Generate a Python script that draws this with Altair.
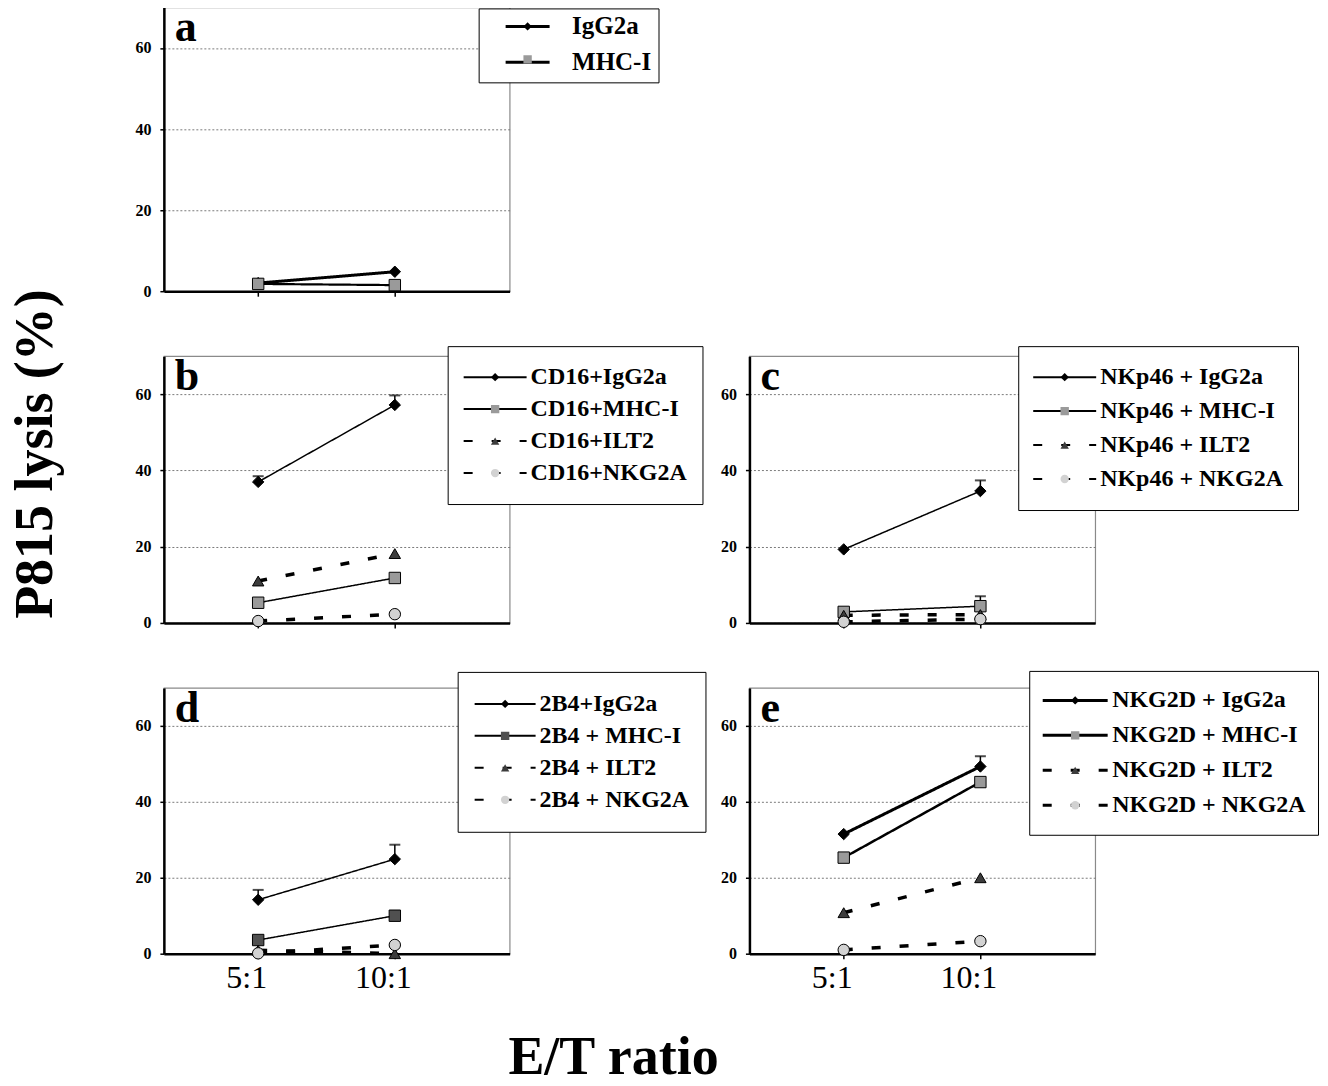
import json
import altair as alt
import pandas as pd

FONT = "Liberation Serif"

RATIOS = ["5:1", "10:1"]
RATIO_POS = [1, 2]
Y_TICKS = [0, 20, 40, 60]

Y_TITLE = "P815 lysis (%)"
X_TITLE = "E/T ratio"

A_SERIES = ["IgG2a", "MHC-I"]
A_VALUES = [[2.0, 4.8], [1.8, 1.5]]
A_ERR = [[0, 0], [0, 0]]

B_SERIES = ["CD16+IgG2a", "CD16+MHC-I", "CD16+ILT2", "CD16+NKG2A"]
B_VALUES = [[37.0, 57.2], [5.3, 11.8], [11.0, 18.2], [0.5, 2.3]]
B_ERR = [[1.5, 2.5], [0, 0], [0, 0], [0, 0]]

C_SERIES = ["NKp46 + IgG2a", "NKp46 + MHC-I", "NKp46 + ILT2", "NKp46 + NKG2A"]
C_VALUES = [[19.3, 34.6], [2.9, 4.4], [2.0, 2.2], [0.3, 1.0]]
C_ERR = [[0, 2.8], [0, 2.6], [0, 0], [0, 0]]

D_SERIES = ["2B4+IgG2a", "2B4 + MHC-I", "2B4 + ILT2", "2B4 + NKG2A"]
D_VALUES = [[14.2, 24.9], [3.6, 10.0], [0.9, 0.0], [0.1, 2.3]]
D_ERR = [[2.6, 3.8], [0, 0], [0, 0], [0, 0]]

E_SERIES = ["NKG2D + IgG2a", "NKG2D + MHC-I", "NKG2D + ILT2", "NKG2D + NKG2A"]
E_VALUES = [[31.5, 49.3], [25.3, 45.2], [10.8, 20.0], [1.0, 3.3]]
E_ERR = [[0, 2.7], [0, 0], [0, 0], [0, 0]]

SHAPES = ["diamond", "square", "triangle-up", "circle"]
FILLS = ["#000000", "#9a9a9a", "#3c3c3c", "#d2d2d2"]
FILLS_D = ["#000000", "#505050", "#3c3c3c", "#d2d2d2"]
SOLID = [1, 0]
DASHED = [9, 19]


def panel(letter, series, values, errs, fills, widths, dashes, leg, show_labels, height,
          extra=()):
    rows = []
    markers = [f"m{i}" for i in range(len(series))]
    for i, s in enumerate(series):
        for j, r in enumerate(RATIOS):
            rows.append(dict(ratio=r, pos=RATIO_POS[j], series=s, marker=markers[i],
                             value=values[i][j], err=errs[i][j],
                             top=values[i][j] + errs[i][j]))
    df = pd.DataFrame(rows)
    base = alt.Chart(df)

    label_expr = json.dumps(RATIOS) + "[datum.value - 1]"
    xaxis = alt.Axis(values=RATIO_POS, title=None, grid=False, domainColor="black",
                     domainWidth=2.5, tickColor="black", tickSize=5, tickWidth=1.5,
                     labels=show_labels, labelExpr=label_expr, labelFont=FONT,
                     labelFontSize=32, labelColor="black", labelOffset=-12,
                     labelPadding=4)
    yaxis = alt.Axis(values=Y_TICKS, title=None, grid=True, gridDash=[2, 2],
                     gridColor="#7a7a7a", gridWidth=1, domainColor="black",
                     domainWidth=2.5, tickColor="black", tickSize=4, tickWidth=1.5,
                     labelFont=FONT, labelFontSize=16, labelFontWeight="bold",
                     labelColor="black", labelPadding=9)
    yscale = alt.Scale(domain=[0, 70], nice=False)
    x = alt.X("pos:Q", scale=alt.Scale(domain=[0.31, 2.84], nice=False, zero=False), axis=xaxis)
    y = alt.Y("value:Q", scale=yscale, axis=yaxis)

    L = leg["L"]
    sw = leg["sw"]
    so = leg.get("so", 0)
    size1 = -(-int((L + sw) * 100) // 100)
    line_legend = alt.Legend(orient="none", legendX=leg["x"], legendY=leg["y"], title=None,
                             symbolType="stroke", symbolSize=L * L, symbolOffset=so,
                             symbolStrokeColor="black", symbolStrokeWidth=sw,
                             labelFont=FONT, labelFontSize=leg["fs"], labelFontWeight="bold",
                             labelColor="black", labelOffset=leg.get("lo", 3), labelLimit=500,
                             clipHeight=leg["h"], rowPadding=leg["rp"], padding=leg["p"],
                             strokeColor="black", fillColor="white", zindex=1)
    dash = alt.StrokeDash("series:N", scale=alt.Scale(domain=series, range=dashes),
                          legend=line_legend)

    layers = []
    for i, s in enumerate(series):
        layers.append(
            base.transform_filter(alt.datum.series == s)
            .mark_line(color="black", strokeWidth=widths[i])
            .encode(x=x, y=y, strokeDash=dash)
        )
    errdf = base.transform_filter(alt.datum.err > 0)
    layers.append(errdf.mark_rule(color="black", strokeWidth=1.5)
                  .encode(x=x, y=y, y2=alt.Y2("top:Q")))
    layers.append(errdf.mark_tick(orient="horizontal", color="black", size=11, thickness=2)
                  .encode(x=x, y=alt.Y("top:Q", scale=yscale, axis=yaxis)))

    msize = 70
    size2 = max(-(-int((msize ** 0.5 + 1) * 100) // 100), 1)
    marker_legend = alt.Legend(orient="none", legendX=leg["x"], legendY=leg["y"], title=None,
                               labelExpr="''", labelFontSize=1, symbolSize=msize,
                               symbolStrokeColor="black", symbolStrokeWidth=1,
                               symbolOpacity=1,
                               clipHeight=leg["h"], rowPadding=leg["rp"], padding=leg["p"],
                               symbolOffset=size1 / 2 - size2 / 2 + so, zindex=2)
    layers.append(
        base.mark_point(filled=True, size=130, stroke="black", strokeWidth=1, opacity=1)
        .encode(x=x, y=y,
                shape=alt.Shape("marker:N", scale=alt.Scale(domain=markers, range=SHAPES[:len(series)]),
                                legend=marker_legend),
                fill=alt.Fill("marker:N", scale=alt.Scale(domain=markers, range=fills[:len(series)]),
                              legend=marker_legend))
    )
    layers.append(
        alt.Chart(pd.DataFrame({"letter": [letter]}))
        .mark_text(font=FONT, fontSize=44, fontWeight="bold", align="left",
                   baseline="alphabetic", color="black")
        .encode(x=alt.value(11), y=alt.value(34), text="letter:N")
    )
    layers.extend(extra)
    return alt.layer(*layers).properties(width=346, height=height)


ytitle = (
    alt.Chart(pd.DataFrame({"t": [Y_TITLE]}))
    .mark_text(font=FONT, fontSize=54, fontWeight="bold", angle=270, align="center",
               baseline="alphabetic", color="black")
    .encode(x=alt.value(-112), y=alt.value(447), text="t:N")
)
xtitle = (
    alt.Chart(pd.DataFrame({"t": [X_TITLE]}))
    .mark_text(font=FONT, fontSize=54, fontWeight="bold", align="center",
               baseline="alphabetic", color="black")
    .encode(x=alt.value(450), y=alt.value(386), text="t:N")
)

pa = panel("a", A_SERIES, A_VALUES, A_ERR, FILLS, [3, 2.2], [SOLID, SOLID],
           dict(x=315, y=1, p=7, h=22, rp=11, L=44, sw=3, fs=25, so=18.5, lo=21),
           False, 284, extra=[ytitle])
pb = panel("b", B_SERIES, B_VALUES, B_ERR, FILLS, [1.5, 1.5, 3.5, 3.5],
           [SOLID, SOLID, DASHED, DASHED],
           dict(x=284, y=-10, p=15, h=32, rp=0, L=63, sw=2, fs=24), False, 267)
pc = panel("c", C_SERIES, C_VALUES, C_ERR, FILLS, [1.5, 1.5, 3.5, 3.5],
           [SOLID, SOLID, DASHED, DASHED],
           dict(x=269, y=-10, p=14, h=34, rp=0, L=63, sw=2, fs=24), False, 267)
pd_ = panel("d", D_SERIES, D_VALUES, D_ERR, FILLS_D, [1.5, 1.5, 3.5, 3.5],
            [SOLID, SOLID, DASHED, DASHED],
            dict(x=294, y=-16, p=16, h=32, rp=0, L=61, sw=2, fs=24), True, 266,
            extra=[xtitle])
pe = panel("e", E_SERIES, E_VALUES, E_ERR, FILLS, [3, 2.5, 3.5, 3.5],
           [SOLID, SOLID, DASHED, DASHED],
           dict(x=280, y=-17, p=12, h=35, rp=0, L=65, sw=3, fs=24), True, 266)

blank = (
    alt.Chart(pd.DataFrame({"t": [""]}))
    .mark_text()
    .encode(text="t:N")
    .properties(width=346, height=10, view=alt.ViewBackground(stroke="transparent"))
)

IND = dict(strokeDash="independent", shape="independent", fill="independent")

chart = (
    alt.concat(pa, blank, pb, pc, pd_, pe, columns=2,
               spacing={"row": 65, "column": 240}, bounds="flush")
    .resolve_scale(**IND).resolve_legend(**IND)
    .properties(padding={"left": 0, "top": -3, "right": 0, "bottom": 0})
    .configure_view(stroke="#8a8a8a", strokeWidth=1.2)
)

chart.save("out.html", embed_options={"renderer": "svg", "actions": False})
